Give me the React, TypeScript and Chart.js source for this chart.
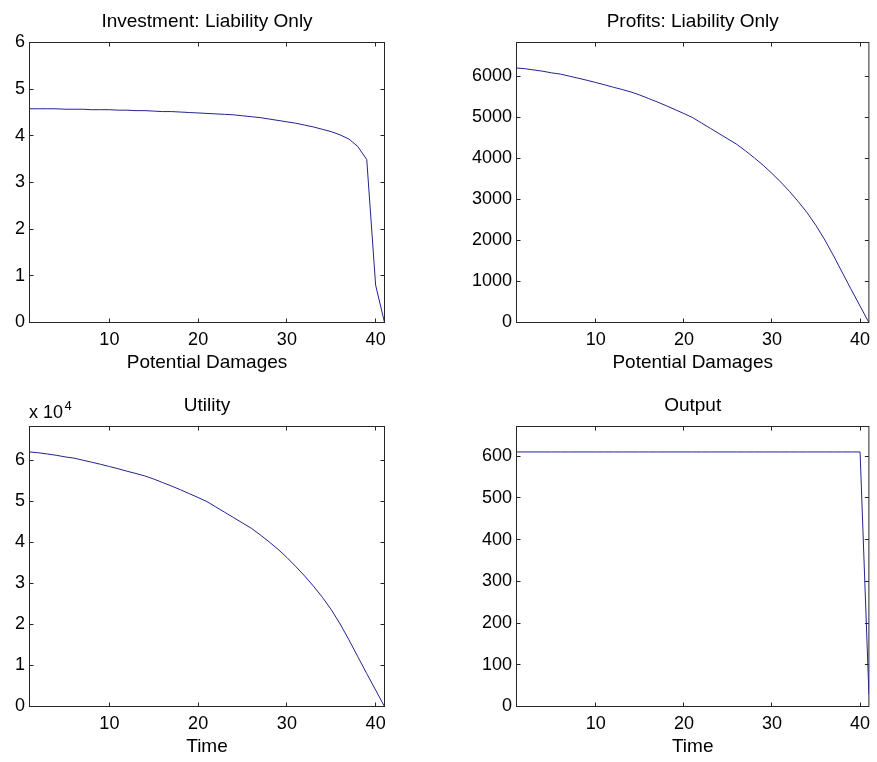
import React, { useEffect, useRef } from "react";
import { Chart, registerables } from "chart.js";

Chart.register(...registerables);

// Horizon index shared by all four panels
const periods = [
  1, 2, 3, 4, 5, 6, 7, 8, 9, 10, 11, 12, 13, 14, 15, 16, 17, 18, 19, 20, 21,
  22, 23, 24, 25, 26, 27, 28, 29, 30, 31, 32, 33, 34, 35, 36, 37, 38, 39, 40, 41,
];

// Investment under the liability-only regime
const investment = [
  4.58, 4.58, 4.58, 4.58, 4.57, 4.57, 4.57, 4.56, 4.56, 4.56, 4.55, 4.55, 4.54,
  4.54, 4.53, 4.52, 4.52, 4.51, 4.5, 4.49, 4.48, 4.47, 4.46, 4.45, 4.43, 4.41,
  4.39, 4.36, 4.33, 4.3, 4.27, 4.23, 4.19, 4.14, 4.09, 4.02, 3.93, 3.77, 3.49,
  0.8, 0,
];

// Profits under the liability-only regime
const profits = [
  6200, 6180, 6150, 6120, 6080, 6050, 6000, 5950, 5900, 5845, 5790, 5730, 5675,
  5615, 5540, 5455, 5370, 5280, 5185, 5090, 4990, 4860, 4730, 4600, 4470, 4340,
  4180, 4010, 3830, 3630, 3420, 3190, 2940, 2670, 2360, 2010, 1620, 1210, 800,
  400, 0,
];

// Utility over time
const utility = [
  62000, 61800, 61500, 61200, 60800, 60500, 60000, 59500, 59000, 58450, 57900,
  57300, 56750, 56150, 55400, 54550, 53700, 52800, 51850, 50900, 49900, 48600,
  47300, 46000, 44700, 43400, 41800, 40100, 38300, 36300, 34100, 31800, 29300,
  26600, 23600, 20100, 16200, 12100, 8000, 4000, 0,
];

// Output over time
const output = [
  610, 610, 610, 610, 610, 610, 610, 610, 610, 610, 610, 610, 610, 610, 610,
  610, 610, 610, 610, 610, 610, 610, 610, 610, 610, 610, 610, 610, 610, 610,
  610, 610, 610, 610, 610, 610, 610, 610, 610, 610, 30,
];

// Axis ticks and limits
const xTicks = [10, 20, 30, 40];
const xMin = 1;
const xMax = 41;
const investmentTicks = [0, 1, 2, 3, 4, 5, 6];
const investmentMax = 6;
const profitTicks = [0, 1000, 2000, 3000, 4000, 5000, 6000];
const profitMax = 6820;
const utilityTicks = [0, 10000, 20000, 30000, 40000, 50000, 60000];
const utilityMax = 68200;
const utilityScale = 10000;
const outputTicks = [0, 100, 200, 300, 400, 500, 600];
const outputMax = 671;

const FONT = "'Liberation Sans', Arial, Helvetica, sans-serif";
const LINE_COLOR = "#23238e";
const AXIS_COLOR = "#262626";
const PANEL_H = 378;

// Box around the plot area with short inward ticks on every side
const boxedAxes = {
  id: "boxedAxes",
  beforeDatasetsDraw(chart: any) {
    const { ctx, chartArea: a, scales } = chart;
    const xs = scales.x;
    const ys = scales.y;
    const len = 4;
    ctx.save();
    ctx.strokeStyle = AXIS_COLOR;
    ctx.lineWidth = 1;
    ctx.strokeRect(a.left, a.top, a.right - a.left, a.bottom - a.top);
    ctx.beginPath();
    xs.ticks.forEach((t: any) => {
      const px = Math.round(xs.getPixelForValue(t.value) - 0.5) + 0.5;
      ctx.moveTo(px, a.bottom);
      ctx.lineTo(px, a.bottom - len);
      ctx.moveTo(px, a.top);
      ctx.lineTo(px, a.top + len);
    });
    ys.ticks.forEach((t: any) => {
      const py = Math.round(ys.getPixelForValue(t.value) - 0.5) + 0.5;
      ctx.moveTo(a.left, py);
      ctx.lineTo(a.left + len, py);
      ctx.moveTo(a.right, py);
      ctx.lineTo(a.right - len, py);
    });
    ctx.stroke();
    ctx.restore();
  },
};

// "x 10^4" multiplier above the utility axis
const exponentLabel = {
  id: "exponentLabel",
  afterDraw(chart: any) {
    const { ctx, chartArea } = chart;
    const x0 = chartArea.left - 0.5;
    ctx.save();
    ctx.fillStyle = "#000";
    ctx.textAlign = "left";
    ctx.textBaseline = "alphabetic";
    ctx.font = `18px ${FONT}`;
    ctx.fillText("x 10", x0, 33.5);
    const w = ctx.measureText("x 10").width;
    ctx.font = `13px ${FONT}`;
    ctx.fillText("4", x0 + w + 1.5, 25.5);
    ctx.restore();
  },
};

type PanelSpec = {
  title: string;
  xTitle: string;
  values: number[];
  yTicks: number[];
  yMax: number;
  yLabel: (v: number) => string;
  left: number;
  top: number;
  width: number;
  axisWidth: number;
  padRight: number;
  exponent?: boolean;
};

function Panel({ spec }: { spec: PanelSpec }) {
  const ref = useRef<HTMLCanvasElement>(null);

  useEffect(() => {
    const canvas = ref.current;
    if (!canvas) return;
    const points = periods.map((p, i) => ({ x: p, y: spec.values[i] }));
    const plugins: any[] = [boxedAxes];
    if (spec.exponent) plugins.push(exponentLabel);

    const chart = new Chart(canvas, {
      type: "line",
      data: {
        datasets: [
          {
            data: points,
            borderColor: LINE_COLOR,
            borderWidth: 1,
            pointRadius: 0,
            tension: 0,
            fill: false,
          },
        ],
      },
      options: {
        responsive: false,
        animation: false,
        devicePixelRatio: 1,
        layout: { padding: { left: 0, right: spec.padRight, top: 0, bottom: 0 } },
        plugins: {
          legend: { display: false },
          tooltip: { enabled: false },
          title: {
            display: true,
            text: spec.title,
            fullSize: false,
            color: "#000",
            font: { family: FONT, size: 19, weight: "normal" },
            padding: { top: 10.3, bottom: 9.4 },
          },
        },
        scales: {
          x: {
            type: "linear",
            min: xMin,
            max: xMax,
            grid: { display: false, drawTicks: false },
            border: { display: false },
            ticks: {
              color: "#000",
              font: { family: FONT, size: 18 },
              padding: 6.7,
              maxRotation: 0,
              autoSkip: false,
              callback: (v: any) => String(v),
            },
            title: {
              display: true,
              text: spec.xTitle,
              color: "#000",
              font: { family: FONT, size: 19 },
              padding: { top: 0, bottom: 4 },
            },
            afterBuildTicks: (s: any) => {
              s.ticks = xTicks.map((value) => ({ value }));
            },
            afterFit: (s: any) => {
              s.height = PANEL_H - 322.5;
            },
          },
          y: {
            type: "linear",
            min: 0,
            max: spec.yMax,
            grid: { display: false, drawTicks: false },
            border: { display: false },
            ticks: {
              color: "#000",
              font: { family: FONT, size: 18 },
              padding: 4.5,
              autoSkip: false,
              callback: (v: any) => spec.yLabel(Number(v)),
            },
            afterBuildTicks: (s: any) => {
              s.ticks = spec.yTicks.map((value) => ({ value }));
            },
            afterFit: (s: any) => {
              s.width = spec.axisWidth;
            },
          },
        },
      } as any,
      plugins,
    });
    return () => chart.destroy();
  }, [spec]);

  return (
    <canvas
      ref={ref}
      width={spec.width}
      height={PANEL_H}
      style={{
        position: "absolute",
        left: spec.left,
        top: spec.top,
        width: spec.width,
        height: PANEL_H,
      }}
    />
  );
}

const panels: PanelSpec[] = [
  {
    title: "Investment: Liability Only",
    xTitle: "Potential Damages",
    values: investment,
    yTicks: investmentTicks,
    yMax: investmentMax,
    yLabel: (v) => String(v),
    left: 0,
    top: 0,
    width: 440,
    axisWidth: 29.5,
    padRight: 55.5,
  },
  {
    title: "Profits: Liability Only",
    xTitle: "Potential Damages",
    values: profits,
    yTicks: profitTicks,
    yMax: profitMax,
    yLabel: (v) => String(v),
    left: 440,
    top: 0,
    width: 437,
    axisWidth: 76.5,
    padRight: 5.5,
  },
  {
    title: "Utility",
    xTitle: "Time",
    values: utility,
    yTicks: utilityTicks,
    yMax: utilityMax,
    yLabel: (v) => String(v / utilityScale),
    left: 0,
    top: 384,
    width: 440,
    axisWidth: 29.5,
    padRight: 55.5,
    exponent: true,
  },
  {
    title: "Output",
    xTitle: "Time",
    values: output,
    yTicks: outputTicks,
    yMax: outputMax,
    yLabel: (v) => String(v),
    left: 440,
    top: 384,
    width: 437,
    axisWidth: 76.5,
    padRight: 5.5,
  },
];

export default function App() {
  return (
    <div
      style={{
        position: "absolute",
        left: 0,
        top: 0,
        width: 877,
        height: 762,
        background: "#fff",
        overflow: "hidden",
      }}
    >
      {panels.map((p) => (
        <Panel key={p.title} spec={p} />
      ))}
    </div>
  );
}
